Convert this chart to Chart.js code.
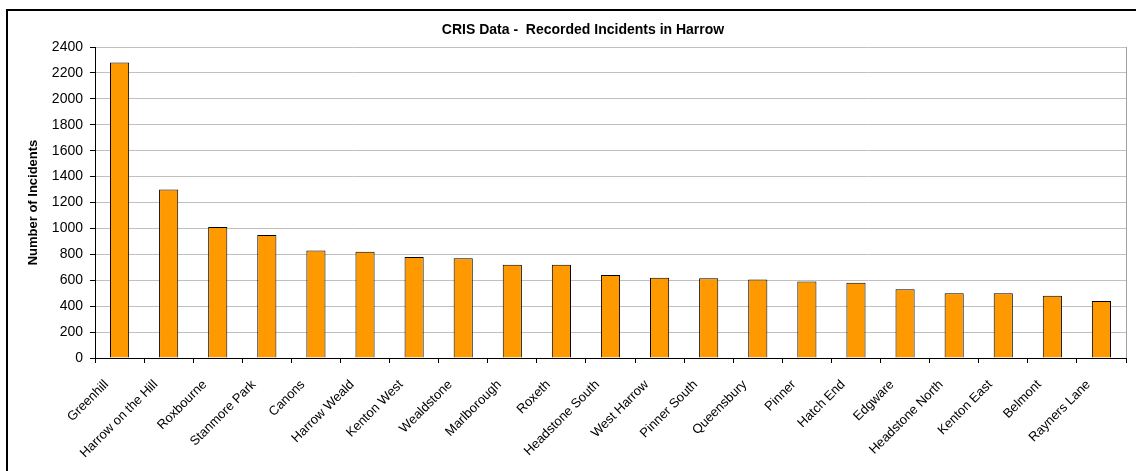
<!DOCTYPE html>
<html lang="en">
<head>
    <meta charset="UTF-8">
    <title>CRIS Data - Recorded Incidents in Harrow</title>
    <script src="https://cdn.jsdelivr.net/npm/chart.js@4.4.1/dist/chart.umd.min.js"></script>
    <style>
        body { margin: 0; background: #fff; }
        canvas { display: block; }
    </style>
</head>
<body>

<canvas id="chart" width="1136" height="471"></canvas>

<script>
    const chartTitle = 'CRIS Data -  Recorded Incidents in Harrow';
    const yTitle = 'Number of Incidents';
    const wards = ['Greenhill', 'Harrow on the Hill', 'Roxbourne', 'Stanmore Park', 'Canons',
        'Harrow Weald', 'Kenton West', 'Wealdstone', 'Marlborough', 'Roxeth', 'Headstone South',
        'West Harrow', 'Pinner South', 'Queensbury', 'Pinner', 'Hatch End', 'Edgware',
        'Headstone North', 'Kenton East', 'Belmont', 'Rayners Lane'];
    const incidents = [2280, 1300, 1010, 950, 830, 820, 780, 770, 720, 720, 640,
        620, 615, 605, 590, 580, 530, 500, 500, 480, 440];

    // outer frame, plot-area right edge and the title, drawn like the Excel original
    const framePlugin = {
        id: 'frame',
        beforeDraw(chart) {
            const ctx = chart.ctx;
            ctx.save();
            ctx.fillStyle = '#fff';
            ctx.fillRect(0, 0, chart.width, chart.height);
            ctx.restore();
        },
        afterDraw(chart) {
            const ctx = chart.ctx;
            const a = chart.chartArea;
            ctx.save();
            ctx.strokeStyle = '#a0a0a0';
            ctx.lineWidth = 1;
            ctx.beginPath();
            ctx.moveTo(Math.round(a.right) + 0.5, a.top);
            ctx.lineTo(Math.round(a.right) + 0.5, a.bottom);
            ctx.stroke();

            ctx.strokeStyle = '#000';
            ctx.lineWidth = 2;
            ctx.beginPath();
            ctx.moveTo(7, chart.height);
            ctx.lineTo(7, 10);
            ctx.lineTo(chart.width, 10);
            ctx.stroke();

            ctx.fillStyle = '#000';
            ctx.font = 'bold 14px "Liberation Sans", Arial, sans-serif';
            ctx.textAlign = 'center';
            ctx.textBaseline = 'middle';
            ctx.fillText(chartTitle, 583, 30);
            ctx.restore();
        }
    };

    const ctx = document.getElementById('chart').getContext('2d');
    const chart = new Chart(ctx, {
        type: 'bar',
        data: {
            labels: wards,
            datasets: [{
                data: incidents,
                backgroundColor: '#ff9900',
                borderColor: '#000',
                borderWidth: 1,
                barPercentage: 0.78,
                categoryPercentage: 0.5
            }]
        },
        plugins: [framePlugin],
        options: {
            responsive: false,
            animation: false,
            layout: { padding: { left: 26, top: 47, right: 10, bottom: 0 } },
            plugins: {
                legend: { display: false },
                title: { display: false },
                tooltip: { enabled: false }
            },
            scales: {
                x: {
                    afterFit: s => { s.height = 113; },
                    grid: {
                        offset: true,
                        drawOnChartArea: false,
                        tickLength: 5,
                        tickColor: '#000'
                    },
                    border: { color: '#000', width: 1 },
                    ticks: {
                        minRotation: 45,
                        maxRotation: 45,
                        autoSkip: false,
                        padding: 14,
                        labelOffset: -13,
                        color: '#000',
                        font: { family: '"Liberation Sans", Arial, sans-serif', size: 13 }
                    }
                },
                y: {
                    min: 0,
                    max: 2400,
                    afterFit: s => { s.width = 69; },
                    grid: {
                        color: '#c0c0c0',
                        tickLength: 5,
                        tickColor: '#000'
                    },
                    border: { color: '#000', width: 1 },
                    ticks: {
                        stepSize: 200,
                        padding: 7,
                        color: '#000',
                        callback: v => String(v),
                        font: { family: '"Liberation Sans", Arial, sans-serif', size: 14 }
                    },
                    title: {
                        display: true,
                        text: yTitle,
                        color: '#000',
                        padding: { top: 0, bottom: 0 },
                        font: { family: '"Liberation Sans", Arial, sans-serif', size: 13, weight: 'bold' }
                    }
                }
            }
        }
    });
</script>
</body>
</html>
